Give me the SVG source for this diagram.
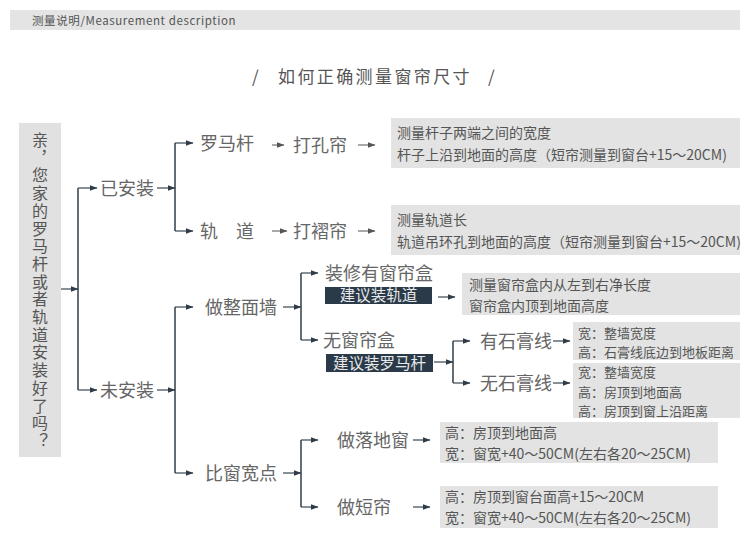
<svg xmlns="http://www.w3.org/2000/svg" width="750" height="546" viewBox="0 0 750 546">
<defs>
<marker id="ah" viewBox="0 0 8 6" refX="7.5" refY="3" markerWidth="8" markerHeight="6" markerUnits="userSpaceOnUse" orient="auto">
<path d="M0,0 L8,3 L0,6 Z" fill="#2f3c48"/>
</marker>
<marker id="ah2" viewBox="0 0 8 6" refX="7.5" refY="3" markerWidth="8" markerHeight="6" markerUnits="userSpaceOnUse" orient="auto">
<path d="M0,0 L8,3 L0,6 Z" fill="#555"/>
</marker>
<style>
text{font-family:"Noto Sans CJK SC","Liberation Sans",sans-serif;}
.hdr{font-size:11.5px;fill:#555;letter-spacing:0.6px;}
.ttl{font-size:17px;fill:#555;letter-spacing:2.4px;}
.q{font-size:16px;fill:#555;letter-spacing:1.7px;writing-mode:vertical-rl;}
.n{font-size:18px;fill:#666;}
.bx{fill:#e2e3e2;}
.bt{font-size:14px;fill:#555;}
.bs{font-size:13px;fill:#555;}
.dk{fill:#2b3a48;}
.dt{font-size:15.5px;fill:#e6e8ea;text-anchor:middle;}
.ln{stroke:#2f3c48;stroke-width:1.5;fill:none;}
.ar{stroke:#3a4652;stroke-width:1.2;fill:none;marker-end:url(#ah);}
.ta{stroke:#555;stroke-width:1;fill:none;marker-end:url(#ah2);}
</style>
</defs>
<rect x="0" y="0" width="750" height="546" fill="#fff"/>
<g id="header">
<rect x="10" y="10" width="730" height="20" fill="#e3e4e3"/>
<text class="hdr" x="32" y="24.5">测量说明/Measurement  description</text>
</g>
<g id="title">
<text class="ttl" y="83"><tspan x="252">/</tspan><tspan x="278">如何正确测量窗帘尺寸</tspan><tspan x="488">/</tspan></text>
</g>
<g id="question">
<rect x="19" y="123" width="42" height="334" fill="#e0e1e0"/>
<text class="q" x="40" y="132">亲，您家的罗马杆或者轨道安装好了吗？</text>
</g>
<g id="connectors">
<path class="ar" d="M61,289 H78"/>
<path class="ln" d="M78,188 V390"/>
<path class="ar" d="M78,188 H97"/>
<path class="ar" d="M78,390 H97"/>
<path class="ar" d="M157,188 H175"/>
<path class="ln" d="M175,143 V231"/>
<path class="ar" d="M175,143 H193"/>
<path class="ar" d="M175,231 H193"/>
<path class="ta" d="M272,145 H284"/>
<path class="ta" d="M358,145 H375"/>
<path class="ta" d="M272,231 H287"/>
<path class="ta" d="M358,231 H375"/>
<path class="ar" d="M157,390 H175"/>
<path class="ln" d="M175,307 V473"/>
<path class="ar" d="M175,307 H193"/>
<path class="ar" d="M175,473 H193"/>
<path class="ar" d="M283,307 H301"/>
<path class="ln" d="M301,273 V340"/>
<path class="ar" d="M301,273 H318"/>
<path class="ar" d="M301,340 H318"/>
<path class="ar" d="M438,297 H455"/>
<path class="ar" d="M434,362 H453"/>
<path class="ln" d="M453,341 V383"/>
<path class="ar" d="M453,341 H470"/>
<path class="ar" d="M453,383 H470"/>
<path class="ar" d="M553,341 H570"/>
<path class="ar" d="M553,383 H570"/>
<path class="ar" d="M283,473 H301"/>
<path class="ln" d="M301,440 V507"/>
<path class="ar" d="M301,440 H318"/>
<path class="ar" d="M301,507 H318"/>
<path class="ar" d="M413,440 H430"/>
<path class="ar" d="M413,507 H430"/>
</g>
<g id="installed"><text class="n" x="100" y="194.5">已安装</text></g>
<g id="not-installed"><text class="n" x="100" y="396.5">未安装</text></g>
<g id="roman-rod"><text class="n" x="200" y="149.5">罗马杆</text></g>
<g id="eyelet"><text class="n" x="293" y="151.5">打孔帘</text></g>
<g id="track"><text class="n" x="200" y="237.5">轨　道</text></g>
<g id="pleat"><text class="n" x="293" y="237.5">打褶帘</text></g>
<g id="box-rod">
<rect class="bx" x="391" y="118" width="349" height="50"/>
<text class="bt" x="397" y="138">测量杆子两端之间的宽度</text>
<text class="bt" x="397" y="160">杆子上沿到地面的高度（短帘测量到窗台+15～20CM)</text>
</g>
<g id="box-track">
<rect class="bx" x="391" y="205" width="349" height="50"/>
<text class="bt" x="397" y="225">测量轨道长</text>
<text class="bt" x="397" y="247">轨道吊环孔到地面的高度（短帘测量到窗台+15～20CM)</text>
</g>
<g id="whole-wall"><text class="n" x="205" y="313.5">做整面墙</text></g>
<g id="with-box">
<text class="n" x="325" y="279.5">装修有窗帘盒</text>
<rect class="dk" x="325" y="287" width="107" height="17"/>
<text class="dt" x="378.5" y="301">建议装轨道</text>
</g>
<g id="box-curtainbox">
<rect class="bx" x="462" y="273" width="278" height="42"/>
<text class="bt" x="469" y="290">测量窗帘盒内从左到右净长度</text>
<text class="bt" x="469" y="311">窗帘盒内顶到地面高度</text>
</g>
<g id="no-box">
<text class="n" x="323" y="347">无窗帘盒</text>
<rect class="dk" x="326" y="354" width="107" height="18"/>
<text class="dt" x="379.5" y="368.5">建议装罗马杆</text>
</g>
<g id="with-plaster"><text class="n" x="480" y="347.5">有石膏线</text></g>
<g id="no-plaster"><text class="n" x="480" y="389.5">无石膏线</text></g>
<g id="box-plaster">
<rect class="bx" x="573" y="322" width="167" height="38"/>
<text class="bs" x="578" y="337.5">宽：整墙宽度</text>
<text class="bs" x="578" y="356.5">高：石膏线底边到地板距离</text>
</g>
<g id="box-noplaster">
<rect class="bx" x="573" y="363" width="167" height="55"/>
<text class="bs" x="578" y="377">宽：整墙宽度</text>
<text class="bs" x="578" y="397">高：房顶到地面高</text>
<text class="bs" x="578" y="416">高：房顶到窗上沿距离</text>
</g>
<g id="wider"><text class="n" x="205" y="479.5">比窗宽点</text></g>
<g id="floor-window"><text class="n" x="337" y="446.5">做落地窗</text></g>
<g id="short-curtain"><text class="n" x="337" y="513.5">做短帘</text></g>
<g id="box-floor">
<rect class="bx" x="440" y="422" width="278" height="41"/>
<text class="bt" x="445" y="438">高：房顶到地面高</text>
<text class="bt" x="445" y="459">宽：窗宽+40～50CM(左右各20～25CM)</text>
</g>
<g id="box-short">
<rect class="bx" x="440" y="486" width="278" height="42"/>
<text class="bt" x="445" y="502">高：房顶到窗台面高+15～20CM</text>
<text class="bt" x="445" y="523">宽：窗宽+40～50CM(左右各20～25CM)</text>
</g>
</svg>
